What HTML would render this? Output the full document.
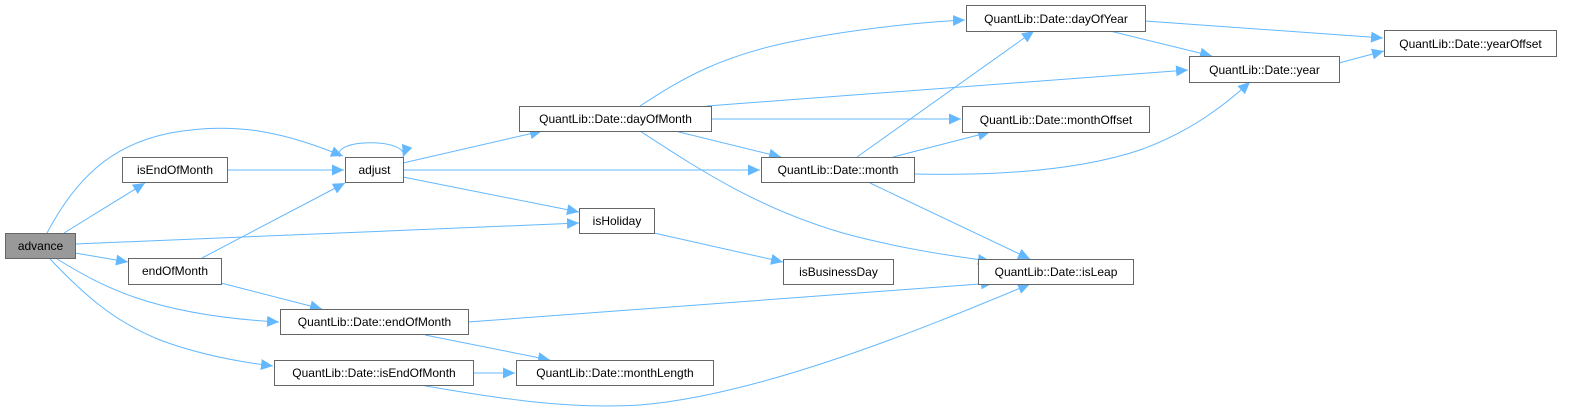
<!DOCTYPE html>
<html><head><meta charset="utf-8"><style>
html,body{margin:0;padding:0;background:#fff;}
svg{display:block;}
text{font-family:"Liberation Sans",Arial,sans-serif;font-size:12px;fill:#000;}
</style></head><body>
<svg width="1569" height="412" viewBox="0 0 1569 412" xmlns="http://www.w3.org/2000/svg">
<defs>
<marker id="a" markerUnits="userSpaceOnUse" markerWidth="13" markerHeight="11" refX="12" refY="5.5" orient="auto">
<path d="M0,0 L12,5.5 L0,11 z" fill="#63b8ff"/>
</marker>
</defs>
<g fill="none" stroke="#63b8ff" stroke-width="1" marker-end="url(#a)">
<path d="M47,233 C75,180 110,145 170,133 C240,120 290,135 343,156"/>
<path d="M64,233 L145,183"/>
<path d="M75,244 L579,223"/>
<path d="M75,253 L128,262"/>
<path d="M57,259 C100,285 150,315 279,322"/>
<path d="M50,259 C80,290 110,320 160,340 C200,355 240,362 273,366"/>
<path d="M227,170 L344,170"/>
<path d="M202,258 L345,183"/>
<path d="M221,283 L322,309"/>
<path d="M340,157 C330,138 410,138 403,157"/>
<path d="M403,163 L542,131"/>
<path d="M403,170 L760,170"/>
<path d="M403,177 L579,212"/>
<path d="M640,106 C680,80 720,55 800,40 C850,30 920,22 965,20"/>
<path d="M707,106 L1188,70"/>
<path d="M711,119 L961,119"/>
<path d="M675,131 L781,157"/>
<path d="M640,131 C700,170 760,210 850,235 C900,248 950,256 990,261"/>
<path d="M857,157 L1034,31"/>
<path d="M893,157 L990,132"/>
<path d="M914,174 C1000,176 1080,170 1140,150 C1190,132 1225,105 1250,82"/>
<path d="M870,183 L1030,259"/>
<path d="M1145,21 L1383,38"/>
<path d="M1110,31 L1212,56"/>
<path d="M1339,63 L1384,51"/>
<path d="M654,233 L783,262"/>
<path d="M468,322 L993,283"/>
<path d="M425,335 L550,360"/>
<path d="M473,373 L515,373"/>
<path d="M420,385 C480,395 560,410 640,405 C760,395 920,330 1030,284"/>
</g>
<g stroke="#666" stroke-width="1">
<rect x="5.5" y="233.5" width="70" height="25" fill="#999"/>
<rect x="122.5" y="157.5" width="105" height="25" fill="#fff"/>
<rect x="345.5" y="157.5" width="58" height="25" fill="#fff"/>
<rect x="128.5" y="258.5" width="93" height="26" fill="#fff"/>
<rect x="280.5" y="309.5" width="188" height="25" fill="#fff"/>
<rect x="274.5" y="360.5" width="199" height="25" fill="#fff"/>
<rect x="519.5" y="106.5" width="192" height="25" fill="#fff"/>
<rect x="579.5" y="208.5" width="75" height="25" fill="#fff"/>
<rect x="761.5" y="157.5" width="153" height="25" fill="#fff"/>
<rect x="783.5" y="259.5" width="110" height="25" fill="#fff"/>
<rect x="516.5" y="360.5" width="197" height="25" fill="#fff"/>
<rect x="966.5" y="5.5" width="179" height="26" fill="#fff"/>
<rect x="962.5" y="106.5" width="187" height="26" fill="#fff"/>
<rect x="978.5" y="259.5" width="155" height="25" fill="#fff"/>
<rect x="1189.5" y="56.5" width="150" height="26" fill="#fff"/>
<rect x="1384.5" y="30.5" width="172" height="26" fill="#fff"/>
</g>
<g text-anchor="middle">
<text x="40.5" y="250">advance</text>
<text x="175" y="174">isEndOfMonth</text>
<text x="374.5" y="174">adjust</text>
<text x="175" y="275">endOfMonth</text>
<text x="374.5" y="326">QuantLib::Date::endOfMonth</text>
<text x="374" y="377">QuantLib::Date::isEndOfMonth</text>
<text x="615.5" y="123">QuantLib::Date::dayOfMonth</text>
<text x="617" y="225">isHoliday</text>
<text x="838" y="174">QuantLib::Date::month</text>
<text x="838.5" y="276">isBusinessDay</text>
<text x="615" y="377">QuantLib::Date::monthLength</text>
<text x="1056" y="23">QuantLib::Date::dayOfYear</text>
<text x="1056" y="124">QuantLib::Date::monthOffset</text>
<text x="1056" y="276">QuantLib::Date::isLeap</text>
<text x="1264.5" y="74">QuantLib::Date::year</text>
<text x="1470.5" y="48">QuantLib::Date::yearOffset</text>
</g>
</svg>
</body></html>
